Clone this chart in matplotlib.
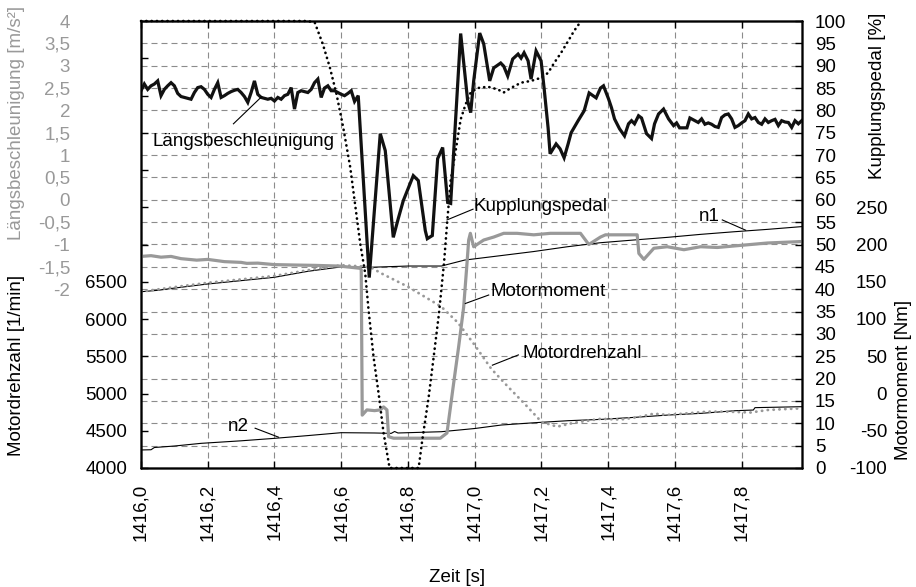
import numpy as np
import matplotlib
matplotlib.use("Agg")
import matplotlib.pyplot as plt

plt.rcParams['font.family'] = ['Liberation Sans', 'DejaVu Sans']
FS = 13.5
GRAY = '#999999'

# ---------------- data ----------------
time_ticks = [1416.0, 1416.2, 1416.4, 1416.6, 1416.8, 1417.0, 1417.2, 1417.4, 1417.6, 1417.8]
time_tick_labels = ["1416,0", "1416,2", "1416,4", "1416,6", "1416,8",
                    "1417,0", "1417,2", "1417,4", "1417,6", "1417,8"]

acc_ticks = [4, 3.5, 3, 2.5, 2, 1.5, 1, 0.5, 0, -0.5, -1, -1.5, -2]
acc_tick_labels = ["4", "3,5", "3", "2,5", "2", "1,5", "1", "0,5", "0", "-0,5", "-1", "-1,5", "-2"]
rpm_ticks = [4000, 4500, 5000, 5500, 6000, 6500]
pedal_ticks = list(range(0, 101, 5))
torque_ticks = [-100, -50, 0, 50, 100, 150, 200, 250]

# Längsbeschleunigung [m/s²]
acc_t_start = 1416.0
acc_v_start = [2.44, 2.59, 2.47, 2.55, 2.59, 2.66, 2.33, 2.47, 2.55, 2.62,
               2.55, 2.38, 2.31, 2.29, 2.27, 2.25, 2.40, 2.51, 2.53, 2.47,
               2.36, 2.29, 2.47, 2.62, 2.29, 2.33, 2.38, 2.42, 2.45, 2.47,
               2.40, 2.31, 2.18, 2.40, 2.66, 2.36, 2.29, 2.27, 2.25, 2.27,
               2.21, 2.29, 2.25, 2.33, 2.36, 2.51, 2.03, 2.40, 2.44, 2.42,
               2.40, 2.47, 2.62, 2.70, 2.29, 2.50, 2.55, 2.44, 2.44, 2.40,
               2.36, 2.33, 2.38, 2.44, 2.20]
acc_t_mid = [1416.651, 1416.684, 1416.717, 1416.732, 1416.756, 1416.771, 1416.786,
             1416.816, 1416.831, 1416.852, 1416.858, 1416.873, 1416.889, 1416.904,
             1416.919, 1416.928, 1416.958, 1416.979, 1416.988, 1416.997, 1417.015,
             1417.027, 1417.045, 1417.057, 1417.078, 1417.087, 1417.099, 1417.114,
             1417.130, 1417.139, 1417.148, 1417.160, 1417.169, 1417.184, 1417.199,
             1417.208, 1417.220, 1417.226, 1417.244, 1417.256, 1417.268, 1417.280,
             1417.289, 1417.310, 1417.328, 1417.343, 1417.364, 1417.377, 1417.386,
             1417.401, 1417.410, 1417.419, 1417.434, 1417.449, 1417.461, 1417.470,
             1417.479, 1417.491, 1417.500, 1417.515, 1417.530, 1417.539, 1417.551,
             1417.566, 1417.581, 1417.596, 1417.605, 1417.614, 1417.636, 1417.645,
             1417.660]
acc_v_mid = [2.33, -1.74, 1.48, 1.10, -0.84, -0.42, -0.02,
             0.54, 0.43, -0.69, -0.87, -0.80, 0.92, 1.17,
             -0.06, -0.08, 3.72, 2.21, 1.95, 2.66, 3.73,
             3.49, 2.66, 2.95, 3.06, 2.99, 2.77, 3.15,
             3.26, 3.17, 3.29, 3.11, 2.70, 3.33, 3.11,
             2.50, 1.61, 1.03, 1.25, 1.14, 0.94, 1.25,
             1.50, 1.77, 1.99, 2.39, 2.28, 2.50, 2.55,
             2.26, 2.06, 1.81, 1.59, 1.43, 1.70, 1.77,
             1.70, 1.88, 1.83, 1.48, 1.37, 1.70, 1.92,
             2.03, 1.81, 1.66, 1.72, 1.61, 1.61, 1.83,
             1.77]
acc_t_end = 1417.67
acc_v_end = [1.73, 1.81, 1.69, 1.72, 1.69, 1.64, 1.62, 1.84, 1.90, 1.92,
             1.81, 1.62, 1.66, 1.72, 1.77, 1.92, 1.81, 1.84, 1.73, 1.69,
             1.81, 1.73, 1.77, 1.80, 1.66, 1.77, 1.74, 1.73, 1.62, 1.77,
             1.70, 1.77]

# Kupplungspedal [%]
pedal_t = [1416.000, 1416.500, 1416.521, 1416.545, 1416.566, 1416.586, 1416.606,
           1416.627, 1416.657, 1416.672, 1416.682, 1416.697, 1416.712, 1416.727,
           1416.745, 1416.832, 1416.843, 1416.862, 1416.877, 1416.893, 1416.908,
           1416.918, 1416.928, 1416.943, 1416.958, 1416.973, 1416.988, 1417.009,
           1417.039, 1417.069, 1417.087, 1417.108, 1417.139, 1417.169, 1417.199,
           1417.220, 1417.238, 1417.259, 1417.280, 1417.298, 1417.319]
pedal_v = [100, 100, 99.6, 94.8, 89.6, 83.6, 76.2,
           67.3, 50.2, 43.5, 35.3, 24.8, 16.7, 7.8,
           0, 0, 6.3, 15.8, 24.8, 34.6, 45.8,
           55.4, 64.3, 71.0, 78.0, 81.4, 84.0, 85.0,
           85.3, 84.7, 84.0, 85.0, 86.2, 86.6, 87.3,
           88.4, 90.6, 92.9, 95.5, 97.8, 100]

# Motordrehzahl [1/min]
engine_t = [1416.000, 1416.100, 1416.200, 1416.300, 1416.400, 1416.500, 1416.600,
            1416.667, 1416.690, 1416.720, 1416.800, 1416.900, 1416.950, 1417.000,
            1417.050, 1417.100, 1417.150, 1417.200, 1417.247, 1417.300, 1417.377,
            1417.437, 1417.497, 1417.537, 1417.577, 1417.637, 1417.697, 1417.757,
            1417.827, 1417.877, 1417.927, 1417.980]
engine_v = [6366, 6428, 6486, 6532, 6578, 6655, 6722,
            6705, 6690, 6613, 6433, 6165, 5950, 5650,
            5330, 5090, 4860, 4620, 4554, 4610, 4660,
            4650, 4688, 4730, 4712, 4734, 4756, 4756,
            4745, 4778, 4790, 4801]

# n1 [1/min]
n1_t = [1416.000, 1416.050, 1416.100, 1416.200, 1416.300, 1416.400, 1416.500,
        1416.600, 1416.680, 1416.800, 1416.900, 1416.970, 1417.077, 1417.176,
        1417.278, 1417.377, 1417.476, 1417.578, 1417.677, 1417.777, 1417.877,
        1417.980]
n1_v = [6366, 6385, 6415, 6470, 6515, 6560, 6640,
        6700, 6693, 6711, 6711, 6791, 6850, 6905,
        6970, 7024, 7060, 7096, 7136, 7171, 7203,
        7240]

# n2 [1/min]
n2_t = [1416.000, 1416.030, 1416.040, 1416.100, 1416.180, 1416.300, 1416.400,
        1416.500, 1416.600, 1416.700, 1416.750, 1416.760, 1416.770, 1416.900,
        1417.000, 1417.080, 1417.180, 1417.280, 1417.380, 1417.480, 1417.580,
        1417.680, 1417.780, 1417.835, 1417.840, 1417.980]
n2_v = [4242, 4245, 4275, 4295, 4331, 4365, 4398,
        4435, 4474, 4470, 4465, 4490, 4470, 4487,
        4530, 4577, 4608, 4635, 4653, 4680, 4711,
        4734, 4769, 4778, 4810, 4823]

# Motormoment [Nm]
torque_t = [1416.000, 1416.030, 1416.060, 1416.090, 1416.120, 1416.167, 1416.200,
            1416.250, 1416.300, 1416.317, 1416.350, 1416.400, 1416.467, 1416.520,
            1416.597, 1416.657, 1416.660, 1416.663, 1416.677, 1416.700, 1416.717,
            1416.727, 1416.737, 1416.742, 1416.757, 1416.897, 1416.917, 1416.937,
            1416.952, 1416.967, 1416.977, 1416.982, 1416.987, 1416.997, 1417.027,
            1417.057, 1417.087, 1417.127, 1417.177, 1417.227, 1417.317, 1417.342,
            1417.377, 1417.392, 1417.487, 1417.492, 1417.507, 1417.537, 1417.577,
            1417.627, 1417.677, 1417.727, 1417.777, 1417.827, 1417.877, 1417.980]
torque_v = [184, 185, 183, 184, 181, 179, 180,
            177, 176, 174.7, 175, 173, 172.4, 172,
            171, 168, 166, -29, -22, -23, -22,
            -18, -22, -58, -60, -60, -53, 14,
            63, 116, 175, 206, 215, 197, 206,
            210, 215, 215, 213, 215, 215, 200,
            210, 213, 213, 188, 180, 195, 197,
            193, 197, 196, 198, 200, 202, 204]

# ---------------- figure ----------------
fig = plt.figure(figsize=(9.16, 5.87), dpi=100)
L, R, B, T = 141 / 916, 801.7 / 916, 1 - 468 / 587, 1 - 21 / 587
ax = fig.add_axes([L, B, R - L, T - B])

ax.set_xlim(1416.0, 1417.98)
ax.set_ylim(-6, 4)

# grid and acceleration tick labels on the host axes
grid_vals = np.arange(-6, 4.01, 0.5)
ax.set_yticks(grid_vals)
lab_map = dict(zip(acc_ticks, acc_tick_labels))
ax.set_yticklabels([lab_map.get(round(v, 1), "") for v in grid_vals])
ax.tick_params(axis='y', length=0, pad=51, labelcolor=GRAY, labelsize=FS)
ax.set_xticks(time_ticks)
ax.set_xticklabels(time_tick_labels, rotation=90)
ax.tick_params(axis='x', direction='in', length=5, top=True, bottom=True,
               pad=11, labelsize=FS, width=1)
ax.grid(True, color='#8c8c8c', linestyle=(0, (5.4, 3.6)), linewidth=0.8)
ax.set_axisbelow(True)

# engine speed / shaft speeds
ax_rpm = ax.twinx()
ax_rpm.set_ylim(4000, 10000)
ax_rpm.yaxis.tick_left()
ax_rpm.set_yticks(np.arange(4000, 10001, 500))
ax_rpm.set_yticklabels([str(v) if v in rpm_ticks else "" for v in np.arange(4000, 10001, 500)])
ax_rpm.tick_params(axis='y', direction='in', length=5, width=1, pad=10, labelsize=FS)
ax_rpm.plot(n1_t, n1_v, color='black', lw=0.8, zorder=2)
ax_rpm.plot(n2_t, n2_v, color='black', lw=0.8, zorder=2)
ax_rpm.plot(engine_t, engine_v, color=GRAY, lw=2.0, linestyle=(0, (0.1, 2.0)),
            dash_capstyle='round', zorder=3)

# engine torque
ax_tq = ax.twinx()
ax_tq.set_ylim(-100, 500)
ax_tq.set_yticks(torque_ticks)
ax_tq.set_yticklabels([str(v) for v in torque_ticks])
ax_tq.tick_params(axis='y', length=0, pad=61.5, labelsize=FS)
for tl in ax_tq.get_yticklabels():
    tl.set_horizontalalignment('right')
ax_tq.plot(torque_t, torque_v, color=GRAY, lw=2.3, solid_joinstyle='round')

# clutch pedal
ax_ped = ax.twinx()
ax_ped.set_ylim(0, 100)
ax_ped.set_yticks(pedal_ticks)
ax_ped.set_yticklabels([str(v) for v in pedal_ticks])
ax_ped.tick_params(axis='y', direction='in', length=5, width=1, pad=9.6, labelsize=FS)
ax_ped.plot(pedal_t, pedal_v, color='black', lw=1.9, linestyle=(0, (0.1, 1.9)),
            dash_capstyle='round', clip_on=False)

# longitudinal acceleration
ax_acc = ax.twinx()
ax_acc.set_ylim(-6, 4)
ax_acc.set_yticks([])
acc_t = np.concatenate([acc_t_start + 0.01 * np.arange(len(acc_v_start)),
                        acc_t_mid,
                        acc_t_end + 0.01 * np.arange(len(acc_v_end))])
acc_v = np.concatenate([acc_v_start, acc_v_mid, acc_v_end])
ax_acc.plot(acc_t, acc_v, color='#111111', lw=2.3, solid_joinstyle='miter')

for a in (ax, ax_rpm, ax_tq, ax_ped, ax_acc):
    for s in a.spines.values():
        s.set_linewidth(1.0)

# curve labels with leader lines (acceleration scale)
notes = [
    ("Längsbeschleunigung", 1416.033, 1.30, (1416.277, 1.70), (1416.362, 2.31)),
    ("Kupplungspedal", 1416.997, -0.15, (1416.917, -0.45), (1416.995, -0.21)),
    ("n1", 1417.671, -0.38, (1417.742, -0.45), (1417.812, -0.68)),
    ("Motormoment", 1417.047, -2.06, (1416.972, -2.32), (1417.042, -2.13)),
    ("Motordrehzahl", 1417.142, -3.43, (1417.053, -3.70), (1417.131, -3.47)),
    ("n2", 1416.261, -5.08, (1416.342, -5.11), (1416.412, -5.31)),
]
for text, tx, ty, p0, p1 in notes:
    ax_acc.text(tx, ty, text, fontsize=FS, ha='left', va='center', color='black')
    ax_acc.plot([p0[0], p1[0]], [p0[1], p1[1]], color='black', lw=0.8)

# axis titles
fig.text(17 / 916, 1 - 123 / 587, "Längsbeschleunigung [m/s²]", rotation=90,
         ha='center', va='center', fontsize=FS, color=GRAY)
fig.text(17 / 916, 1 - 365 / 587, "Motordrehzahl [1/min]", rotation=90,
         ha='center', va='center', fontsize=FS)
fig.text(878 / 916, 1 - 96 / 587, "Kupplungspedal [%]", rotation=90,
         ha='center', va='center', fontsize=FS)
fig.text(903 / 916, 1 - 380 / 587, "Motormoment [Nm]", rotation=90,
         ha='center', va='center', fontsize=FS)
fig.text(457 / 916, 1 - 577 / 587, "Zeit [s]", ha='center', va='center', fontsize=FS)

fig.savefig("out.png", dpi=100)
